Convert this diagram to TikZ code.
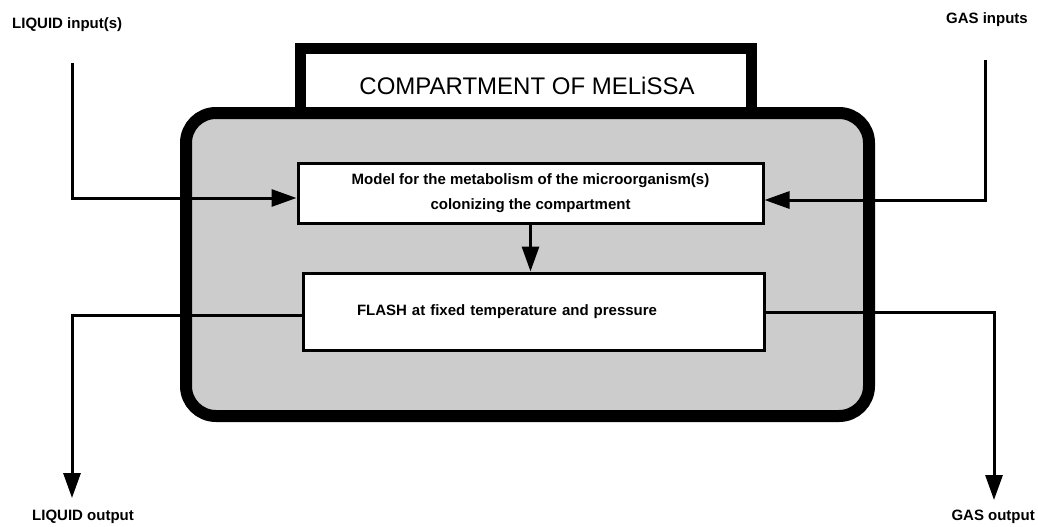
\documentclass[tikz,border=0pt]{standalone}
\usepackage{fontspec}
\setmainfont{Liberation Sans}
\usetikzlibrary{arrows.meta}
\begin{document}
\begin{tikzpicture}[x=1pt,y=-1pt,
  lbl/.style={font=\fontsize{15}{18}\selectfont\bfseries, inner sep=0pt},
  box/.style={draw, line width=3pt, fill=white, inner sep=0pt},
  flow/.style={line width=3pt, -{Triangle[width=17pt,length=25pt]}}]
\useasboundingbox (0,0) rectangle (1038,527);
% title frame
\node[draw, line width=11pt, fill=white, minimum width=451pt, minimum height=63.5pt, inner sep=0pt] (titlebox) at (526,80.25) {};
% compartment
\node[draw, line width=12pt, fill=black!20, rounded corners=30pt, minimum width=683pt, minimum height=303pt, inner sep=0pt] (comp) at (527.5,264.5) {};
\node[font=\fontsize{24}{28}\selectfont, inner sep=0pt] (title) at (527,86) {COMPARTMENT OF MELiSSA};
% inner boxes
\node[box, minimum width=465pt, minimum height=60pt, align=center, font=\fontsize{15}{25}\selectfont\bfseries] (model) at (530.5,193) {Model for the metabolism of the microorganism(s)\\colonizing the compartment};
\node[box, minimum height=77pt, inner xsep=54pt, text width=353pt, align=left, font=\fontsize{15}{18}\selectfont\bfseries] (flash) at (533.5,311.5) {FLASH at fixed temperature and pressure};
% free ends
\coordinate (lin) at (72,63);
\coordinate (gin) at (985,60);
\coordinate (lout) at (72,498);
\coordinate (gout) at (994,500);
% connectors
\draw[flow] (lin) |- ([yshift=-5pt]model.west);
\draw[flow] (gin) |- ([yshift=-7pt]model.east);
\draw[flow] (model.south) -- (flash.north -| model.south);
\draw[flow] ([yshift=-3.5pt]flash.west) -| (lout);
\draw[flow] ([yshift=-0.5pt]flash.east) -| (gout);
% labels
\node[lbl, anchor=west] (liqin) at (12,25) {LIQUID input(s)};
\node[lbl, anchor=east] (gasin) at (1028,20) {GAS inputs};
\node[lbl, anchor=west] (liqout) at (32,517) {LIQUID output};
\node[lbl, anchor=east] (gasout) at (1035,517) {GAS output};
\end{tikzpicture}
\end{document}
